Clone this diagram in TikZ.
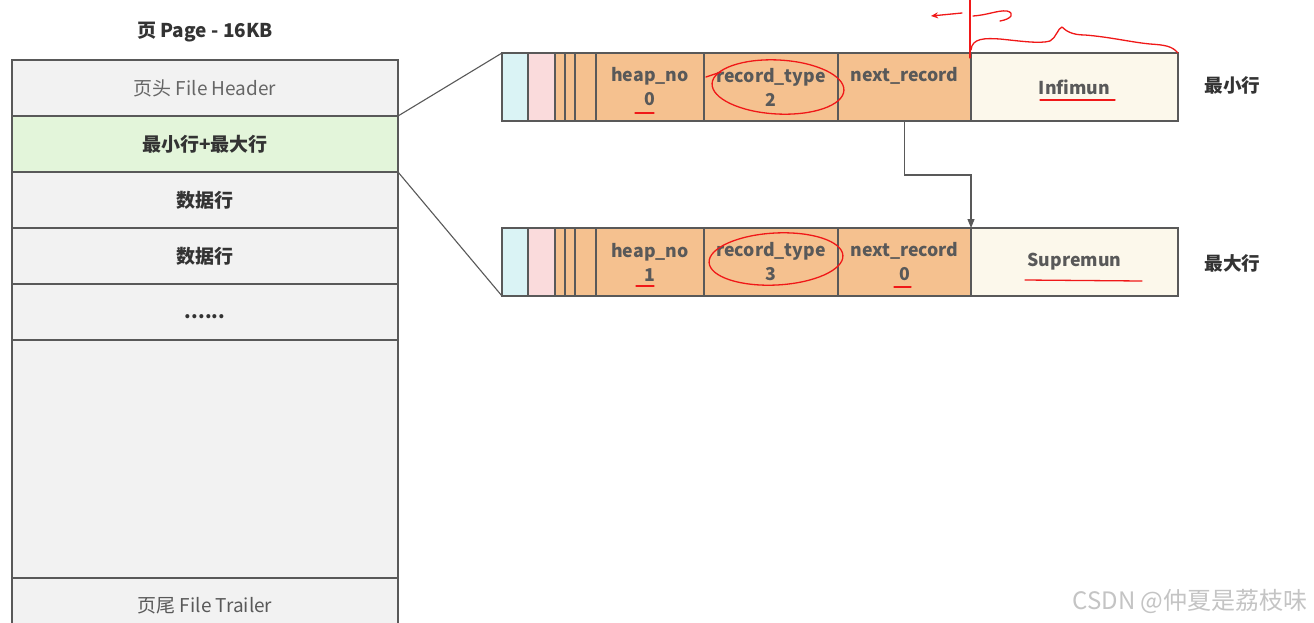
\documentclass[tikz,border=0pt]{standalone}
\usepackage{fontspec}
\setmainfont{Noto Sans CJK SC}
\usetikzlibrary{arrows.meta}
\definecolor{bordc}{HTML}{595959}
\definecolor{cellgray}{HTML}{F2F2F2}
\definecolor{cellgreen}{HTML}{E3F5DA}
\definecolor{segcyan}{HTML}{DAF3F5}
\definecolor{segpink}{HTML}{FADBDC}
\definecolor{segorange}{HTML}{F5C18F}
\definecolor{segcream}{HTML}{FCF8EB}
\definecolor{txtdark}{HTML}{333333}
\definecolor{txtmid}{HTML}{595959}
\definecolor{txtlight}{HTML}{666666}
\definecolor{annred}{HTML}{F01818}
\definecolor{wmark}{HTML}{C4C4C4}
\newcommand{\lowertxt}[2]{\raisebox{-#1}[0pt][0pt]{#2}}
\tikzset{
  pagecell/.style={draw=bordc, line width=1.2pt, fill=cellgray, minimum width=386pt, inner sep=0pt, outer sep=0pt, anchor=north west},
  boldtxt/.style={font=\fontsize{19}{22}\selectfont\bfseries, text=txtdark},
  regtxt/.style={font=\fontsize{19}{22}\selectfont, text=txtlight},
  seg/.style={draw=bordc, line width=1.2pt, minimum height=68pt, inner sep=0pt, outer sep=0pt, anchor=west, align=center,
    font=\fontsize{17.7}{24}\selectfont\bfseries, text=txtmid},
  sidelabel/.style={font=\fontsize{18.6}{20}\selectfont\bfseries, text=txtdark},
  conn/.style={draw=bordc, line width=1.1pt},
  ann/.style={draw=annred, line width=1.3pt, line cap=round, line join=round},
}
\begin{document}
\begin{tikzpicture}[x=1pt,y=-1pt]
\useasboundingbox (0,0) rectangle (1314,622);
\clip (0,0) rectangle (1314,622);
\fill[white] (0,0) rectangle (1314,622);

% title
\node[font=\fontsize{19}{22}\selectfont\bfseries, text=txtdark] (title) at (205,32) {页 Page - 16KB};

% page column
\node[pagecell, minimum height=56pt, regtxt] (hdr) at (12,60) {页头 File Header};
\node[pagecell, minimum height=56pt, fill=cellgreen, boldtxt] (minmax) at (12,116) {最小行+最大行};
\node[pagecell, minimum height=56pt, boldtxt] (data1) at (12,172) {数据行};
\node[pagecell, minimum height=56pt, boldtxt] (data2) at (12,228) {数据行};
\node[pagecell, minimum height=56pt, boldtxt] (dots) at (12,284) {\lowertxt{6pt}{......}};
\node[pagecell, minimum height=238pt] (empty) at (12,340) {};
\node[pagecell, minimum height=56pt, regtxt, text=txtmid] (trl) at (12,578) {页尾 File Trailer};

% top record (Infimum)
\node[seg, fill=segcyan, minimum width=26pt] (ta) at (502,87) {};
\node[seg, fill=segpink, minimum width=27pt] (tb) at (528,87) {};
\node[seg, fill=segorange, minimum width=10pt] (tc) at (555,87) {};
\node[seg, fill=segorange, minimum width=10pt] (td) at (565,87) {};
\node[seg, fill=segorange, minimum width=21pt] (te) at (575,87) {};
\node[seg, fill=segorange, minimum width=108pt] (theap) at (596,87) {heap\_no\\0};
\node[seg, fill=segorange, minimum width=134pt] (ttype) at (704,87) {record\_type\\2};
\node[seg, fill=segorange, minimum width=133pt] (tnext) at (838,87) {next\_record\\\phantom{0}};
\node[seg, fill=segcream, minimum width=207pt] (tinf) at (971,87) {Infimun};
\node[sidelabel, anchor=west] (lmin) at (1201,85) {最小行};

% bottom record (Supremum)
\node[seg, fill=segcyan, minimum width=26pt] (ba) at (502,262) {};
\node[seg, fill=segpink, minimum width=27pt] (bb) at (528,262) {};
\node[seg, fill=segorange, minimum width=10pt] (bc) at (555,262) {};
\node[seg, fill=segorange, minimum width=10pt] (bd) at (565,262) {};
\node[seg, fill=segorange, minimum width=21pt] (be) at (575,262) {};
\node[seg, fill=segorange, minimum width=108pt] (bheap) at (596,262) {heap\_no\\1};
\node[seg, fill=segorange, minimum width=134pt] (btype) at (704,262) {record\_type\\3};
\node[seg, fill=segorange, minimum width=133pt] (bnext) at (838,262) {next\_record\\0};
\node[seg, fill=segcream, minimum width=207pt] (bsup) at (971,262) {Supremun};
\node[sidelabel, anchor=west] (lmax) at (1201,263) {最大行};

% connectors
\draw[conn] (minmax.north east) -- (ta.north west);
\draw[conn] (minmax.south east) -- (ba.south west);
\draw[conn, -{Triangle[length=9pt,width=7pt]}] (tnext.south) |- ++(0,54) -| (bsup.north west);

% red annotations
\draw[ann] (970,0) -- (970,58);
\draw[ann, -{Stealth[length=7pt,width=6pt]}] (962,13) -- (931,16);
\draw[ann] (973,16) .. controls (988,15) and (998,10) .. (1007,11) .. controls (1015,13) and (1012,19) .. (1000,21);
\draw[ann] (971,50) .. controls (972,38) and (985,38) .. (1000,39)
  .. controls (1020,41) and (1040,44) .. (1050,41)
  .. controls (1056,38) and (1058,28) .. (1062,27)
  .. controls (1066,31) and (1072,35) .. (1085,35)
  .. controls (1110,37) and (1130,42) .. (1150,44)
  .. controls (1165,45) and (1172,46) .. (1178,53);
\draw[ann] (706,77) -- (721,72);
\draw[ann, rotate around={-3:(778,87)}] (778,87) ellipse [x radius=66, y radius=27];
\draw[ann] (635,113) -- (654,113);
\draw[ann] (1040,100) -- (1115,100);
\draw[ann, rotate around={3:(776,259)}] (776,259) ellipse [x radius=67, y radius=26];
\draw[ann] (636,286) -- (654,286);
\draw[ann] (894,287) -- (911,287);
\draw[ann] (1025,280) -- (1142,281);

% watermark
\node[anchor=east, font=\fontsize{24}{26}\selectfont, text=wmark] (wm) at (1311,601) {CSDN @仲夏是荔枝味};
\end{tikzpicture}
\end{document}
